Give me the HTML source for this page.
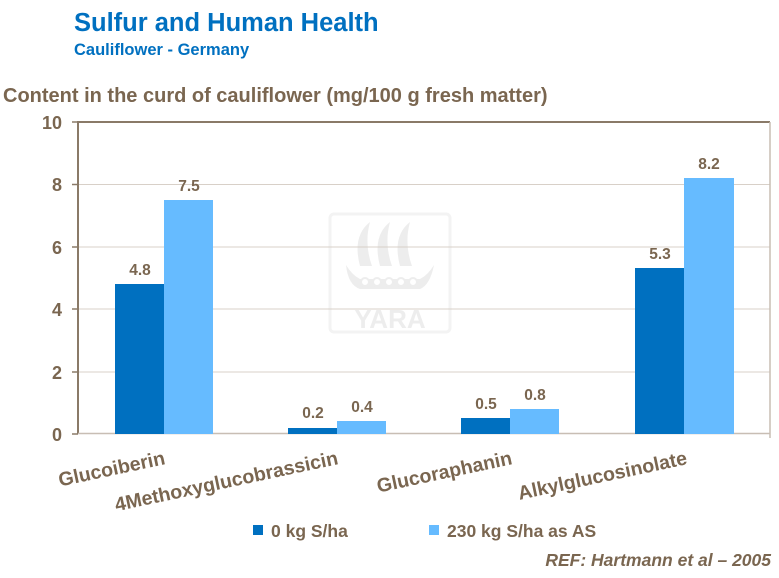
<!DOCTYPE html>
<html><head><meta charset="utf-8"><style>
body{margin:0;background:#fff;width:779px;height:573px;overflow:hidden;font-family:"Liberation Sans",Arial,sans-serif}
</style></head><body>
<svg width="779" height="573" xmlns="http://www.w3.org/2000/svg" font-family="Liberation Sans, Arial, sans-serif" font-weight="bold">
<text x="74" y="31" font-size="25.5" fill="#0070c0">Sulfur and Human Health</text>
<text x="74" y="55" font-size="16.5" fill="#0070c0">Cauliflower  - Germany</text>
<text x="3" y="102" font-size="20" fill="#7a6650">Content in the curd of cauliflower (mg/100 g fresh matter)</text>
<!-- watermark -->
<g opacity="0.35">
<rect x="330" y="214" width="120" height="118" rx="4" fill="none" stroke="#ddd" stroke-width="3"/>
<path d="M360 266 q-8 -30 10 -44 q-6 22 2 44z M380 266 q-8 -30 10 -44 q-6 22 2 44z M400 266 q-8 -30 10 -44 q-6 22 2 44z" fill="#ccc"/>
<path d="M346 265 q6 10 14 14 h60 q8 -4 14 -14 q-4 20 -14 24 h-60 q-12 -4 -14 -24z" fill="#ccc"/>
<circle cx="365" cy="282" r="4" fill="#fff" stroke="#ccc" stroke-width="2"/><circle cx="377" cy="282" r="4" fill="#fff" stroke="#ccc" stroke-width="2"/><circle cx="389" cy="282" r="4" fill="#fff" stroke="#ccc" stroke-width="2"/><circle cx="401" cy="282" r="4" fill="#fff" stroke="#ccc" stroke-width="2"/><circle cx="413" cy="282" r="4" fill="#fff" stroke="#ccc" stroke-width="2"/>
<text x="390" y="328" font-size="26" fill="#ccc" text-anchor="middle">YARA</text>
</g>
<g stroke="#d8d0c8" stroke-width="1">
<line x1="78" y1="184.5" x2="770" y2="184.5"/><line x1="78" y1="247" x2="770" y2="247"/>
<line x1="78" y1="309" x2="770" y2="309"/><line x1="78" y1="372" x2="770" y2="372"/>
</g>
<line x1="78" y1="122" x2="770" y2="122" stroke="#8a7a68" stroke-width="2"/>
<line x1="770" y1="122" x2="770" y2="438" stroke="#c8beb4" stroke-width="1.5"/>
<line x1="78" y1="121" x2="78" y2="434" stroke="#8a7a68" stroke-width="2"/>
<line x1="78" y1="433.5" x2="770" y2="433.5" stroke="#c8beb4" stroke-width="1.5"/>
<g stroke="#8a7a68" stroke-width="1.5"><line x1="72" y1="122" x2="78" y2="122"/><line x1="72" y1="184.5" x2="78" y2="184.5"/><line x1="72" y1="247" x2="78" y2="247"/><line x1="72" y1="309" x2="78" y2="309"/><line x1="72" y1="372" x2="78" y2="372"/><line x1="72" y1="434" x2="78" y2="434"/></g>
<g font-size="18" fill="#7a6650" text-anchor="end">
<text x="62" y="129">10</text><text x="62" y="191">8</text><text x="62" y="254">6</text><text x="62" y="316">4</text><text x="62" y="379">2</text><text x="62" y="441">0</text>
</g>
<g fill="#0070c0">
<rect x="115" y="284" width="49" height="150"/><rect x="288" y="428" width="49" height="6"/><rect x="461" y="418" width="49" height="16"/><rect x="635" y="268" width="49" height="166"/>
</g>
<g fill="#66bbff">
<rect x="164" y="200" width="49" height="234"/><rect x="337" y="421" width="49" height="13"/><rect x="510" y="409" width="49" height="25"/><rect x="684" y="178" width="50" height="256"/>
</g>
<g font-size="15.5" fill="#7a6650" text-anchor="middle">
<text x="140" y="275">4.8</text><text x="189" y="191">7.5</text>
<text x="313" y="418">0.2</text><text x="362" y="412">0.4</text>
<text x="486" y="409">0.5</text><text x="535" y="400">0.8</text>
<text x="660" y="259">5.3</text><text x="709" y="169">8.2</text>
</g>
<g font-size="19.5" fill="#7a6650" text-anchor="end">
<text transform="translate(166,464) rotate(-12)">Glucoiberin</text>
<text transform="translate(339,464) rotate(-12)">4Methoxyglucobrassicin</text>
<text transform="translate(513,464) rotate(-12)">Glucoraphanin</text>
<text transform="translate(688,464) rotate(-12)">Alkylglucosinolate</text>
</g>
<rect x="253" y="525" width="10" height="10" fill="#0070c0"/>
<text x="271" y="537" font-size="17.5" fill="#7a6650">0 kg S/ha</text>
<rect x="429" y="525" width="10" height="10" fill="#66bbff"/>
<text x="447" y="537" font-size="17.5" fill="#7a6650">230 kg S/ha as AS</text>
<text x="771" y="566" font-size="17.5" font-style="italic" fill="#7a6650" text-anchor="end">REF: Hartmann et al – 2005</text>
</svg>
</body></html>
